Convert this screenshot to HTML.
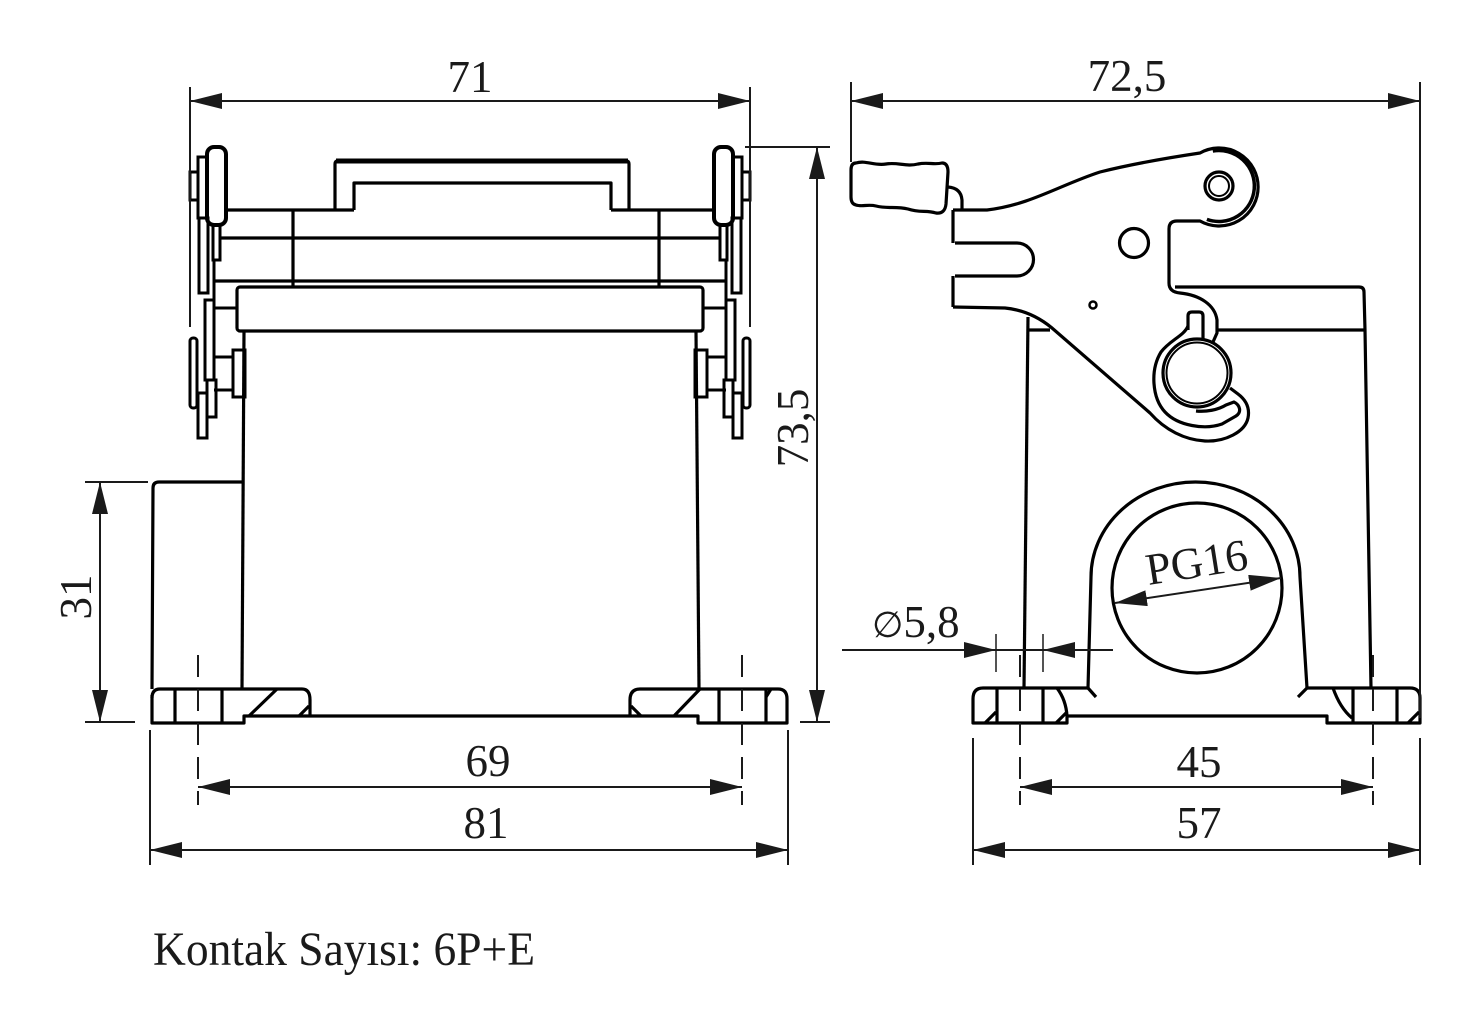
<!DOCTYPE html>
<html><head><meta charset="utf-8"><style>
html,body{margin:0;padding:0;background:#fff;}
svg{display:block;}
text{font-family:"Liberation Serif","DejaVu Serif",serif;fill:#1a1a1a;}
</style></head><body>
<svg width="1482" height="1035" viewBox="0 0 1482 1035" xmlns="http://www.w3.org/2000/svg">
<defs>
<marker id="ar" viewBox="-32 -8 32 16" refX="0" refY="0" markerWidth="32" markerHeight="16" markerUnits="userSpaceOnUse" orient="auto-start-reverse"><path d="M0,0 L-32,-8 L-32,8 z" fill="#1a1a1a"/></marker>
<g id="latch" fill="none" stroke="#000" stroke-width="3">
  <rect x="207" y="147" width="19" height="78" rx="7" stroke-width="4"/>
  <rect x="198" y="157" width="9" height="61"/>
  <rect x="190" y="172" width="8" height="28"/>
  <rect x="199" y="218" width="9" height="75"/>
  <rect x="213" y="225" width="7" height="35"/>
  <line x1="214" y1="260" x2="214" y2="302"/>
  <rect x="205" y="300" width="9" height="80"/>
  <rect x="190" y="338" width="7" height="70" rx="3"/>
  <rect x="198" y="393" width="9" height="45"/>
  <rect x="207" y="380" width="9" height="37"/>
  <rect x="233" y="350" width="12" height="47"/>
  <line x1="214" y1="357" x2="233" y2="357"/>
  <line x1="214" y1="390" x2="233" y2="390"/>
  <line x1="215" y1="308" x2="237" y2="308"/>
</g>
</defs>
<rect width="1482" height="1035" fill="#fff"/>

<!-- ================= LEFT VIEW ================= -->
<g fill="none" stroke="#000" stroke-width="3.2" stroke-linejoin="round">
  <path d="M335,210 L335,164 Q335,161 338,161 L626,161 Q629,161 629,164 L629,210"/>
  <line x1="336" y1="161" x2="628" y2="161" stroke-width="5"/>
  <path d="M354,210 L354,183 L611,183 L611,210"/>
  <line x1="226" y1="210" x2="354" y2="210"/>
  <line x1="611" y1="210" x2="714" y2="210"/>
  <line x1="220" y1="238" x2="720" y2="238"/>
  <line x1="215" y1="281" x2="726" y2="281"/>
  <line x1="293" y1="210" x2="293" y2="287"/>
  <line x1="659" y1="210" x2="659" y2="287"/>
  <rect x="237" y="287" width="466" height="44" rx="3"/>
  <path d="M244,331 L242,689"/>
  <path d="M696,331 L699,689"/>
  <path d="M152,689 L153,488 Q153,482 159,482 L243,482"/>
  <path d="M152,698 Q152,689 160,689 L302,689 Q310,689 310,700 L310,716"/>
  <path d="M152,695 L152,723 L244,723 L244,716 L698,716 L698,723 L787,723 L787,699 Q787,689 778,689 L640,689 Q630,689 630,700 L630,716"/>
  <line x1="175" y1="689" x2="175" y2="723"/>
  <line x1="222" y1="689" x2="222" y2="723"/>
  <line x1="719" y1="689" x2="719" y2="723"/>
  <line x1="766" y1="689" x2="766" y2="723"/>
  <line x1="249" y1="716" x2="277" y2="689"/>
  <line x1="299" y1="716" x2="309" y2="706"/>
  <line x1="674" y1="716" x2="700" y2="689"/>
  <line x1="631" y1="706" x2="641" y2="716"/>
  <line x1="766" y1="697" x2="771" y2="689"/>
</g>
<use href="#latch"/>
<use href="#latch" transform="translate(940,0) scale(-1,1)"/>

<!-- ================= RIGHT VIEW ================= -->
<g fill="none" stroke="#000" stroke-width="3.2" stroke-linejoin="round">
  <path d="M1028,317 L1024,688"/>
  <line x1="1028" y1="330" x2="1050" y2="330"/>
  <path d="M1175,287 L1359,287 Q1364,287 1364,292 L1365,330 L1371,688"/>
  <line x1="1217" y1="330" x2="1365" y2="330"/>
  <path d="M856,163 C866,160 874,166 886,164 C898,162 906,167 918,164 C928,162 934,165 942,163 Q948,163 948,172 L946,204 Q945,214 936,213 C926,210 920,213 908,209 C896,206 888,209 876,206 C868,204 862,207 856,205 Q851,204 851,197 L851,170 Q851,163 856,163 Z"/>
  <path d="M948,187 Q961,188 962,200 L962,210"/>
  <path d="M953,210 L987,210 C1030,205 1060,185 1100,172 C1140,162 1180,156 1200,153 A39,39 0 1 1 1200,221 L1177,221 Q1169,221 1169,229 L1169,283 Q1169,292 1180,293 C1200,295 1215,305 1217,320 L1217,333 L1213,342"/>
  <path d="M1212.8,151 A35.5,35.5 0 1 1 1206.9,219.4" stroke-width="3.5"/>
  <line x1="953" y1="210" x2="953" y2="243"/>
  <path d="M955,243 L1017,243 A16.5,16.5 0 0 1 1017,276 L955,276"/>
  <line x1="953" y1="276" x2="953" y2="307"/>
  <path d="M953,307 L1005,308 C1025,310 1040,318 1052,328 L1150,413 C1165,430 1185,440 1205,441 C1225,442 1245,432 1248,418 C1250,408 1246,400 1238,394 L1230,388"/>
  <circle cx="1219" cy="186" r="14"/>
  <circle cx="1219" cy="186" r="10" stroke-width="2"/>
  <circle cx="1134" cy="243" r="14.5"/>
  <circle cx="1093" cy="305" r="3.5" stroke-width="2.5"/>
  <circle cx="1197" cy="373" r="34"/>
  <circle cx="1197" cy="373" r="30.5" stroke-width="2"/>
  <path d="M1188,330 L1188,316 Q1188,312 1192,312 L1199,312 Q1203,312 1203,316 L1203,340"/>
  <path d="M1188,326 C1184,336 1170,340 1161,352 C1150,370 1152,398 1165,412 C1178,426 1205,430 1222,424 L1236,416 C1242,412 1240,405 1234,402 L1226,405 C1218,410 1206,412 1196,411"/>
  <path d="M1088,688 L1091,577 A104.5,95 0 0 1 1300,577 L1307,688"/>
  <line x1="1088" y1="688" x2="1096" y2="697"/>
  <line x1="1307" y1="688" x2="1298" y2="697"/>
  <circle cx="1197" cy="588" r="85"/>
  <path d="M973,699 Q973,688 983,688 L1088,688"/>
  <path d="M1307,688 L1410,688 Q1420,688 1420,698 L1420,723 L1327,723 L1327,716 L1067,716 L1067,723 L973,723 L973,699"/>
  <path d="M1057,688 Q1066,700 1067,716"/>
  <path d="M1333,688 Q1340,708 1352,718"/>
  <line x1="997" y1="688" x2="997" y2="723"/>
  <line x1="1043" y1="688" x2="1043" y2="723"/>
  <line x1="1353" y1="688" x2="1353" y2="723"/>
  <line x1="1397" y1="688" x2="1397" y2="723"/>
  <line x1="985" y1="723" x2="996" y2="712"/>
  <line x1="1056" y1="723" x2="1067" y2="712"/>
  <line x1="1408" y1="723" x2="1419" y2="712"/>
</g>

<!-- ================= DIMENSIONS ================= -->
<g stroke="#1a1a1a" stroke-width="2" fill="none">
  <line x1="190" y1="87" x2="190" y2="327"/>
  <line x1="750" y1="87" x2="750" y2="327"/>
  <line x1="851" y1="82" x2="851" y2="162"/>
  <line x1="1420" y1="82" x2="1420" y2="718"/>
  <line x1="745" y1="147" x2="830" y2="147"/>
  <line x1="800" y1="722" x2="830" y2="722"/>
  <line x1="85" y1="482" x2="148" y2="482"/>
  <line x1="85" y1="722" x2="135" y2="722"/>
  <line x1="150" y1="730" x2="150" y2="865"/>
  <line x1="788" y1="730" x2="788" y2="865"/>
  <line x1="973" y1="738" x2="973" y2="865"/>
  <line x1="1420" y1="738" x2="1420" y2="865"/>
  <g stroke-dasharray="22 12">
    <line x1="198" y1="655" x2="198" y2="805"/>
    <line x1="742" y1="655" x2="742" y2="805"/>
    <line x1="1020" y1="655" x2="1020" y2="805"/>
    <line x1="1373" y1="655" x2="1373" y2="805"/>
  </g>
  <line x1="190" y1="101" x2="750" y2="101" marker-start="url(#ar)" marker-end="url(#ar)"/>
  <line x1="851" y1="101" x2="1420" y2="101" marker-start="url(#ar)" marker-end="url(#ar)"/>
  <line x1="817" y1="147" x2="817" y2="722" marker-start="url(#ar)" marker-end="url(#ar)"/>
  <line x1="100" y1="482" x2="100" y2="722" marker-start="url(#ar)" marker-end="url(#ar)"/>
  <line x1="198" y1="787" x2="742" y2="787" marker-start="url(#ar)" marker-end="url(#ar)"/>
  <line x1="150" y1="850" x2="788" y2="850" marker-start="url(#ar)" marker-end="url(#ar)"/>
  <line x1="1020" y1="787" x2="1373" y2="787" marker-start="url(#ar)" marker-end="url(#ar)"/>
  <line x1="973" y1="850" x2="1420" y2="850" marker-start="url(#ar)" marker-end="url(#ar)"/>
  <line x1="1115" y1="603" x2="1281" y2="578" marker-start="url(#ar)" marker-end="url(#ar)"/>
  <line x1="842" y1="650" x2="1113" y2="650"/>
  <line x1="962" y1="650" x2="996" y2="650" marker-end="url(#ar)"/>
  <line x1="1077" y1="650" x2="1043" y2="650" marker-end="url(#ar)"/>
  <line x1="996" y1="634" x2="996" y2="672" stroke-width="1.5"/>
  <line x1="1043" y1="634" x2="1043" y2="672" stroke-width="1.5"/>
</g>

<!-- ================= TEXT ================= -->
<g font-size="45" text-anchor="middle">
  <text x="470" y="92">71</text>
  <text x="1127" y="91">72,5</text>
  <text x="488" y="776">69</text>
  <text x="486" y="838">81</text>
  <text x="1199" y="777">45</text>
  <text x="1199" y="838">57</text>
  <text transform="translate(808,428) rotate(-90)">73,5</text>
  <text transform="translate(91,597) rotate(-90)">31</text>
  <text transform="translate(1199,577) rotate(-9)">PG16</text>
</g>
<text x="872" y="637" font-size="45"><tspan font-family="DejaVu Sans" font-size="36" font-weight="normal">∅</tspan>5,8</text>
<text x="153" y="965" font-size="48" textLength="382" lengthAdjust="spacingAndGlyphs">Kontak Sayısı: 6P+E</text>
</svg>
</body></html>
